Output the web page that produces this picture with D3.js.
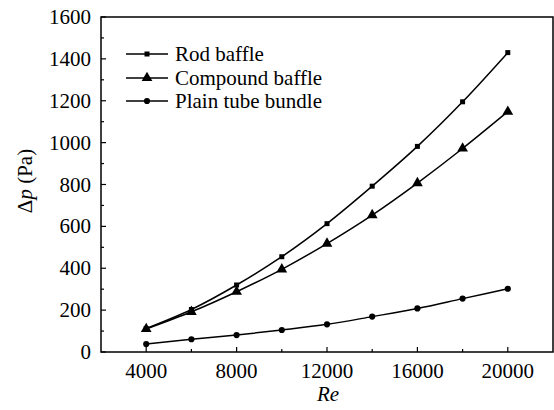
<!DOCTYPE html>
<html>
<head>
<meta charset="utf-8">
<script src="https://cdn.jsdelivr.net/npm/d3@7"></script>
<style>
  body { margin: 0; background: #fff; }
</style>
</head>
<body>
<div id="chart"></div>
<script>
const reValues = [4000, 6000, 8000, 10000, 12000, 14000, 16000, 18000, 20000];
const rodBaffle = [112, 203, 320, 455, 613, 792, 982, 1195, 1430];
const compoundBaffle = [110, 192, 288, 395, 518, 654, 807, 972, 1148];
const plainTube = [38, 61, 81, 105, 132, 169, 208, 255, 302];
const seriesNames = ["Rod baffle", "Compound baffle", "Plain tube bundle"];
const xTicks = [4000, 8000, 12000, 16000, 20000];
const yTicks = [0, 200, 400, 600, 800, 1000, 1200, 1400, 1600];

const width = 554, height = 410;
const margin = {left: 101, right: 1, top: 17, bottom: 58};
const serif = "Times New Roman";
const fs = "21px";

const svg = d3.select("#chart")
  .append("svg")
  .attr("width", width)
  .attr("height", height);

function label(sel) {
  return sel.attr("font-family", serif)
    .attr("font-size", fs)
    .attr("fill", "#000");
}

let x = d3.scaleLinear()
  .domain([2000, 22000])
  .range([margin.left, width - margin.right]);
let y = d3.scaleLinear()
  .domain([0, 1600])
  .range([height - margin.bottom, margin.top]);

const x0 = x.range()[0], x1 = x.range()[1];
const y0 = y.range()[0], y1 = y.range()[1];

// ticks, pointing inward
let tickG = svg.append("g").attr("stroke", "#000").attr("stroke-width", 1.2);
d3.range(4000, 20001, 2000).forEach(v => {
  let len = xTicks.includes(v) ? 5 : 3;
  tickG.append("line")
    .attr("x1", x(v)).attr("x2", x(v))
    .attr("y1", y0).attr("y2", y0 - len);
});
d3.range(0, 1601, 100).forEach(v => {
  let len = yTicks.includes(v) ? 5 : 3;
  tickG.append("line")
    .attr("x1", x0).attr("x2", x0 + len)
    .attr("y1", y(v)).attr("y2", y(v));
});

// frame
svg.append("rect")
  .attr("x", x0).attr("y", y1)
  .attr("width", x1 - x0).attr("height", y0 - y1)
  .attr("fill", "none")
  .attr("stroke", "#000")
  .attr("stroke-width", 1.5);

svg.selectAll(".xlab")
  .data(xTicks)
  .enter().append("text")
    .attr("x", d => x(d))
    .attr("y", y0 + 26)
    .attr("text-anchor", "middle")
    .call(label)
    .text(d => d);

svg.selectAll(".ylab")
  .data(yTicks)
  .enter().append("text")
    .attr("x", x0 - 10)
    .attr("y", d => y(d) + 7)
    .attr("text-anchor", "end")
    .call(label)
    .text(d => d);

svg.selectAll(".xtitle")
  .data(["Re"])
  .enter().append("text")
    .attr("x", (x0 + x1) / 2 + 1)
    .attr("y", 401)
    .attr("text-anchor", "middle")
    .call(label)
    .attr("font-style", "italic")
    .text(d => d);

let yTitle = svg.append("text")
  .attr("transform", "translate(32, 181) rotate(-90)")
  .attr("text-anchor", "middle")
  .call(label);
yTitle.append("tspan").attr("font-family", serif).text("Δ");
yTitle.append("tspan").attr("font-family", serif).attr("font-style", "italic").text("p");
yTitle.append("tspan").attr("font-family", serif).text(" (Pa)");

const allSeries = [rodBaffle, compoundBaffle, plainTube];
const markers = [d3.symbolSquare, d3.symbolTriangle, d3.symbolCircle];
const markerSize = [25, 50, 30];

let line = d3.line()
  .x((d, i) => x(reValues[i]))
  .y(d => y(d))
  .curve(d3.curveMonotoneX);

allSeries.forEach((vals, k) => {
  svg.append("path")
    .datum(vals)
    .attr("d", line)
    .attr("fill", "none")
    .attr("stroke", "#000")
    .attr("stroke-width", 1.5);
  svg.selectAll(".m" + k)
    .data(vals)
    .enter().append("path")
      .attr("d", d3.symbol().type(markers[k]).size(markerSize[k]))
      .attr("transform", (d, i) => `translate(${x(reValues[i])}, ${y(d)})`)
      .attr("fill", "#000");
});

// legend
let legendY = [54, 78, 101];
seriesNames.forEach((name, k) => {
  let ly = legendY[k];
  svg.append("line")
    .attr("x1", 126).attr("x2", 168)
    .attr("y1", ly).attr("y2", ly)
    .attr("stroke", "#000")
    .attr("stroke-width", 1.5);
  svg.append("path")
    .attr("d", d3.symbol().type(markers[k]).size(markerSize[k]))
    .attr("transform", `translate(147, ${ly})`)
    .attr("fill", "#000");
});
svg.selectAll(".legtext")
  .data(seriesNames)
  .enter().append("text")
    .attr("x", 175)
    .attr("y", (d, i) => legendY[i] + 7)
    .call(label)
    .text(d => d);
</script>
</body>
</html>
